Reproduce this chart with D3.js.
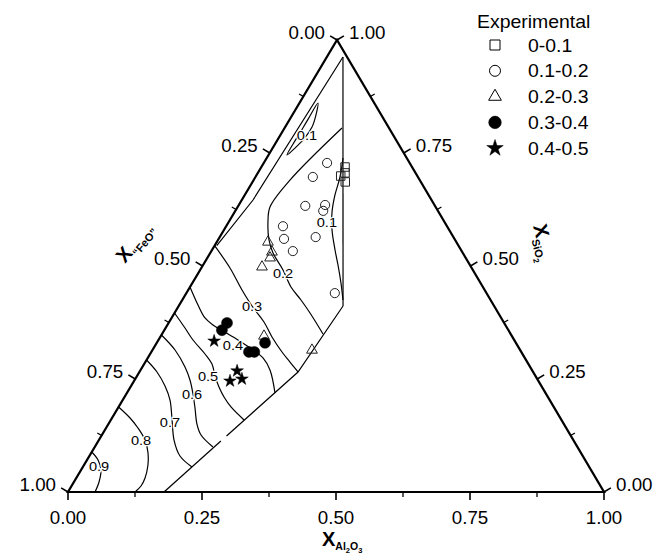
<!DOCTYPE html>
<html>
<head>
<meta charset="utf-8">
<script src="https://cdn.jsdelivr.net/npm/d3@7"></script>
<style>
  body { margin: 0; background: #fff; }
  svg { display: block; }
  text { font-family: "Liberation Sans", Arial, Helvetica, sans-serif; fill: #000; }
</style>
</head>
<body>
<svg id="chart" width="667" height="560"></svg>
<script>
// Compositions are stored as [x_Al2O3, x_SiO2]; x_"FeO" = 1 - x_Al2O3 - x_SiO2.

// Experimental compositions, grouped by measured range
const exp_0_01 = [[0.156, 0.719], [0.1625, 0.706], [0.158, 0.699], [0.173, 0.686]];
const exp_01_02 = [[0.118, 0.728], [0.107, 0.697], [0.125, 0.633], [0.161, 0.635], [0.164, 0.622],
                   [0.106, 0.588], [0.122, 0.560], [0.179, 0.564], [0.152, 0.533], [0.277, 0.440]];
const exp_02_03 = [[0.0955, 0.553], [0.114, 0.531], [0.117, 0.518], [0.112, 0.498], [0.1925, 0.345], [0.2976, 0.314]];
const exp_03_04 = [[0.109, 0.374], [0.1075, 0.358], [0.182, 0.310], [0.192, 0.310], [0.202, 0.330]];
const exp_04_05 = [[0.105, 0.334], [0.181, 0.268], [0.179, 0.2456], [0.199, 0.250]];

const legendLabels = ["0-0.1", "0.1-0.2", "0.2-0.3", "0.3-0.4", "0.4-0.5"];

// Calculated iso-lines
const iso01_loop = [[0.0345, 0.8606], [0.044, 0.834], [0.050, 0.8075], [0.0483, 0.781], [0.0424, 0.763],
                    [0.0343, 0.7456], [0.0335, 0.770], [0.034, 0.794], [0.034, 0.825]];
const iso01 = [[0.1422, 0.739], [0.1577, 0.6969], [0.1683, 0.6571], [0.1817, 0.6195], [0.2017, 0.5796],
               [0.2295, 0.5354], [0.2517, 0.5022], [0.2772, 0.4624], [0.2998, 0.4248]];
const iso02 = [[0.107, 0.8053], [0.0678, 0.690], [0.0604, 0.6305], [0.0733, 0.5973], [0.0952, 0.5575],
               [0.1171, 0.5288], [0.1546, 0.4912], [0.1884, 0.4535], [0.2215, 0.4248], [0.2528, 0.396], [0.3003, 0.3496]];
const iso03 = [[0.0, 0.545], [0.0535, 0.4956], [0.1004, 0.4469], [0.1368, 0.4115], [0.1769, 0.3761],
               [0.2085, 0.3429], [0.2438, 0.3097], [0.2698, 0.2876], [0.2959, 0.2655]];
const iso04 = [[0.0, 0.4535], [0.0349, 0.4137], [0.0624, 0.385], [0.0851, 0.3695], [0.1104, 0.3562],
               [0.1483, 0.3363], [0.1875, 0.3142], [0.215, 0.2965], [0.2414, 0.2699], [0.2763, 0.219]];
const iso05 = [[0.0, 0.396], [0.0362, 0.3628], [0.0644, 0.3363], [0.1024, 0.3053], [0.1265, 0.2832],
               [0.1455, 0.2566], [0.1651, 0.2323], [0.1856, 0.2102], [0.2097, 0.1881], [0.2485, 0.1593]];
const iso06 = [[0.0, 0.3473], [0.042, 0.3142], [0.0795, 0.2765], [0.1032, 0.2478], [0.1244, 0.2168],
               [0.1437, 0.1858], [0.1651, 0.1504], [0.1849, 0.1261], [0.2205, 0.0996]];
const iso07 = [[0.0, 0.292], [0.0328, 0.2655], [0.0633, 0.2345], [0.0882, 0.2035], [0.1142, 0.1593],
               [0.1401, 0.115], [0.169, 0.0796], [0.2035, 0.0553]];
const iso08 = [[0.0, 0.188], [0.0336, 0.1637], [0.0595, 0.1416], [0.086, 0.115], [0.106, 0.0863],
               [0.1192, 0.0597], [0.1282, 0.031], [0.1295, 0.0133], [0.125, 0.0]];
const iso09 = [[0.0, 0.0885], [0.0205, 0.0708], [0.0371, 0.0487], [0.0468, 0.0221], [0.0504, 0.0]];

// Edges of the calculated domain
const domainLeft = [[0.030, 0.9624], [0.021, 0.646], [0.004, 0.545]];
const domainRight = [[0.030, 0.9624], [0.3066, 0.4115]];
const domainLowerA = [[0.3066, 0.4115], [0.2959, 0.2655], [0.2336, 0.1239]];
const domainLowerB = [[0.2286, 0.1128], [0.1791, 0.0]];

// Iso-line labels: text and composition where it sits
const isoLabelText = ["0.1", "0.1", "0.2", "0.3", "0.4", "0.5", "0.6", "0.7", "0.8", "0.9"];
const isoLabelPos = [[0.0494, 0.790], [0.1834, 0.597], [0.158, 0.4845], [0.1368, 0.4115], [0.1446, 0.3252],
                     [0.1325, 0.2566], [0.1226, 0.2168], [0.1125, 0.1549], [0.0785, 0.115], [0.029, 0.0575]];

// Axis tick values
const tickMajor = [0, 0.25, 0.5, 0.75, 1];
const tickMinor = [0.125, 0.375, 0.625, 0.875];

// ---------------------------------------------------------------
const svg = d3.select("#chart");

// Triangle frame: base runs along x_Al2O3, height along x_SiO2
const xAl = d3.scaleLinear().domain([0, 1]).range([68, 604]);
const ySi = d3.scaleLinear().domain([0, 1]).range([492, 40]);
const shear = d3.scaleLinear().domain([0, 1]).range([0, 269]);
const proj = (d) => [xAl(d[0]) + shear(d[1]), ySi(d[1])];

const vFeO = proj([0, 0]), vAl = proj([1, 0]), vSi = proj([0, 1]);

function unitNormal(p, q) {
  const dx = q[0] - p[0], dy = q[1] - p[1], L = Math.hypot(dx, dy);
  return [dy / L, -dx / L];
}
const nLeft = unitNormal(vFeO, vSi);   // points up-left
const nRight = unitNormal(vSi, vAl);   // points up-right
const nBottom = [0, 1];

// slightly widened lettering
function wideText(parent, x, y, size, kx) {
  return parent.append("text")
    .attr("transform", `translate(${x},${y}) scale(${kx},1)`)
    .attr("font-size", size);
}

// iso-lines
const smooth = d3.line().x(d => proj(d)[0]).y(d => proj(d)[1]).curve(d3.curveCatmullRom.alpha(0.5));
const straight = d3.line().x(d => proj(d)[0]).y(d => proj(d)[1]);
const loop = d3.line().x(d => proj(d)[0]).y(d => proj(d)[1]).curve(d3.curveCatmullRomClosed.alpha(0.5));

const gIso = svg.append("g").attr("fill", "none").attr("stroke", "#000").attr("stroke-width", 1.2);
[domainLeft, domainRight, domainLowerA, domainLowerB].forEach(d => gIso.append("path").attr("d", straight(d)));
[iso01, iso02, iso03, iso04, iso05, iso06, iso07, iso08, iso09].forEach(d => gIso.append("path").attr("d", smooth(d)));
gIso.append("path").attr("d", loop(iso01_loop));

// iso-line labels
const gLab = svg.append("g");
isoLabelText.forEach((t, i) => {
  const p = proj(isoLabelPos[i]);
  wideText(gLab, p[0], p[1], 13.5, 1.08)
    .attr("text-anchor", "middle").attr("dominant-baseline", "central")
    .attr("stroke", "#fff").attr("stroke-width", 2.5).attr("paint-order", "stroke")
    .text(t);
});

// triangle frame
svg.append("path")
  .attr("d", d3.line()([vFeO, vAl, vSi]) + "Z")
  .attr("fill", "none").attr("stroke", "#000").attr("stroke-width", 2.2).attr("stroke-linejoin", "miter");

// axes: ticks + labels
const fmt = d3.format(".2f");
const axes = [
  { pt: v => proj([0, 1 - v]), n: nLeft, anchor: "end" },      // x_"FeO": 0 at apex, 1 at lower-left
  { pt: v => proj([1 - v, v]), n: nRight, anchor: "start" },   // x_SiO2: 1 at apex, 0 at lower-right
  { pt: v => proj([v, 0]), n: nBottom, anchor: "middle" }      // x_Al2O3 along the base
];
const gAx = svg.append("g");
axes.forEach((ax, k) => {
  tickMajor.forEach(v => {
    const p = ax.pt(v);
    gAx.append("line").attr("x1", p[0]).attr("y1", p[1])
      .attr("x2", p[0] + ax.n[0] * 8).attr("y2", p[1] + ax.n[1] * 8)
      .attr("stroke", "#000").attr("stroke-width", 1.6);
    let t;
    if (k === 2) {
      t = wideText(gAx, p[0], p[1] + 32, 17.5, 1.07);
    } else {
      t = wideText(gAx, p[0] + ax.n[0] * 14, p[1] + ax.n[1] * 14, 17.5, 1.07).attr("dominant-baseline", "central");
    }
    t.attr("text-anchor", ax.anchor).text(fmt(v));
  });
  tickMinor.forEach(v => {
    const p = ax.pt(v);
    gAx.append("line").attr("x1", p[0]).attr("y1", p[1])
      .attr("x2", p[0] + ax.n[0] * 5).attr("y2", p[1] + ax.n[1] * 5)
      .attr("stroke", "#000").attr("stroke-width", 1.3);
  });
});

// axis titles
const tBottom = svg.append("text").attr("x", 322).attr("y", 546);
tBottom.append("tspan").attr("font-size", 20).attr("font-weight", "bold").text("X");
tBottom.append("tspan").attr("font-size", 10.5).attr("font-weight", "bold").attr("dy", 4).text("Al");
tBottom.append("tspan").attr("font-size", 7.5).attr("font-weight", "bold").attr("dy", 2.5).text("2");
tBottom.append("tspan").attr("font-size", 10.5).attr("font-weight", "bold").attr("dy", -2.5).text("O");
tBottom.append("tspan").attr("font-size", 7.5).attr("font-weight", "bold").attr("dy", 2.5).text("3");

const tLeft = svg.append("text").attr("transform", "translate(125,264) rotate(-50)");
tLeft.append("tspan").attr("font-size", 20).attr("font-weight", "bold").text("X");
tLeft.append("tspan").attr("font-size", 11).attr("font-weight", "bold").attr("dy", 5).text("\u201CFeO\u201D");

const tRight = svg.append("text").attr("transform", "translate(533,226) rotate(76)");
tRight.append("tspan").attr("font-size", 20).attr("font-weight", "bold").text("X");
tRight.append("tspan").attr("font-size", 11).attr("font-weight", "bold").attr("dy", 5).text("SiO");
tRight.append("tspan").attr("font-size", 8).attr("font-weight", "bold").attr("dy", 3).text("2");

// experimental points
const groups = [
  { data: exp_0_01, type: d3.symbolSquare, size: 72, fill: "none" },
  { data: exp_01_02, type: d3.symbolCircle, size: 66, fill: "none" },
  { data: exp_02_03, type: d3.symbolTriangle, size: 50, fill: "none" },
  { data: exp_03_04, type: d3.symbolCircle, size: 95, fill: "#000" },
  { data: exp_04_05, type: d3.symbolStar, size: 50, fill: "#000" }
];
groups.forEach(g => {
  svg.append("g").selectAll("path").data(g.data).join("path")
    .attr("transform", d => `translate(${proj(d)[0]},${proj(d)[1]})`)
    .attr("d", d3.symbol().type(g.type).size(g.size))
    .attr("fill", g.fill)
    .attr("stroke", g.fill === "none" ? "#222" : "#000")
    .attr("stroke-width", g.fill === "none" ? 1 : 0.5);
});

// legend
const lg = svg.append("g");
wideText(lg, 477, 28, 18, 1.08).text("Experimental");
const legendSize = [100, 95, 70, 125, 85];
legendLabels.forEach((lab, i) => {
  const y = 45 + i * 25.8;
  const g = groups[i];
  lg.append("path").attr("transform", `translate(495,${y})`)
    .attr("d", d3.symbol().type(g.type).size(legendSize[i]))
    .attr("fill", g.fill)
    .attr("stroke", "#000").attr("stroke-width", g.fill === "none" ? 1 : 0.5);
  wideText(lg, 528, y + 6.5, 18, 1.08).text(lab);
});
</script>
</body>
</html>
